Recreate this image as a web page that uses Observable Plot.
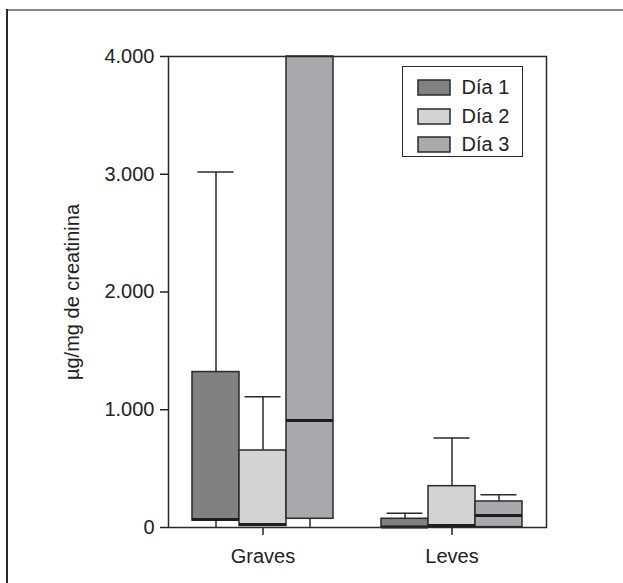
<!DOCTYPE html>
<html>
<head>
<meta charset="utf-8">
<script src="https://cdn.jsdelivr.net/npm/d3@7"></script>
<script src="https://cdn.jsdelivr.net/npm/@observablehq/plot@0.6"></script>
<style>
  html, body { margin: 0; padding: 0; background: #fff; }
  #wrap { position: relative; width: 623px; height: 583px; overflow: hidden; }
  #wrap svg.chart { position: absolute; left: 0; top: 0; }
  #edgeTop { position: absolute; left: 6px; top: 9px; width: 617px; height: 2px; background: #8a8a8a; }
  #edgeLeft { position: absolute; left: 6px; top: 9px; width: 2px; height: 574px; background: #2a2a2a; }
  #legend { position: absolute; left: 402px; top: 66px; width: 121px; height: 91px; box-sizing: border-box;
            border: 1.5px solid #2a2a2a; background: #fff; padding: 6.5px 0 0 14.5px; }
  .leg-swatches { font: 20px "Liberation Sans", Arial, sans-serif !important; color: #222 !important; margin: 0 !important; }
  .leg-swatch { padding-bottom: 0 !important; height: 28.5px; display: flex !important; align-items: center; }
  .leg-swatch > svg { margin-right: 12px !important; overflow: visible; }
  .leg-swatch > svg > * { stroke: #2a2a2a; stroke-width: 1.5px; }
</style>
</head>
<body>
<div id="wrap">
  <div id="edgeTop"></div>
  <div id="edgeLeft"></div>
</div>
<script>
// Categories
const groups = ["Graves", "Leves"];
const days = ["Día 1", "Día 2", "Día 3"];
// One entry per box, in order Graves (Día 1..3), Leves (Día 1..3)
const boxGroup = ["Graves", "Graves", "Graves", "Leves", "Leves", "Leves"];
const boxDay = ["Día 1", "Día 2", "Día 3", "Día 1", "Día 2", "Día 3"];
const whiskerLow = [0, 13, 0, 0, 0, 0];
const quartile1 = [59, 13, 74, 3, 3, 3];
const medianVal = [68, 25, 908, 5, 17, 102];
const quartile3 = [1320, 654, 4000, 74, 351, 221];
const whiskerHigh = [3020, 1110, 4000, 121, 760, 278];
// Axis ticks and labels
const yTicks = [0, 1000, 2000, 3000, 4000];
const yLabel = "µg/mg de creatinina";
const dayColors = ["#808183", "#d2d3d5", "#a8a9ac"];

const rows = boxGroup.map((g, i) => ({
  group: g, day: boxDay[i], low: whiskerLow[i], q1: quartile1[i],
  median: medianVal[i], q3: quartile3[i], high: whiskerHigh[i]
}));

const esFormat = d3.formatLocale({decimal: ",", thousands: ".", grouping: [3], currency: ["", ""]}).format(",");
const ink = "#2a2a2a";

const chart = Plot.plot({
  width: 623,
  height: 583,
  marginLeft: 168,
  marginRight: 77,
  marginTop: 56,
  marginBottom: 56,
  style: {fontFamily: "'Liberation Sans', Arial, sans-serif", fontSize: "20px", color: "#222", background: "transparent"},
  fx: {domain: groups, padding: 0, label: null},
  x: {domain: days, paddingInner: 0, paddingOuter: 0.5, axis: null},
  y: {domain: [0, 4000]},
  color: {domain: days, range: dayColors},
  marks: [
    Plot.ruleX(rows.filter(d => d.q1 > d.low), {fx: "group", x: "day", y1: "low", y2: "q1", stroke: ink, strokeWidth: 1.5}),
    Plot.ruleX(rows.filter(d => d.high > d.q3), {fx: "group", x: "day", y1: "q3", y2: "high", stroke: ink, strokeWidth: 1.5}),
    Plot.tickY(rows.filter(d => d.high > d.q3), {fx: "group", x: "day", y: "high", inset: 5.5, stroke: ink, strokeWidth: 1.5}),
    Plot.rectY(rows, {fx: "group", x: "day", y1: "q1", y2: "q3", fill: "day", stroke: ink, strokeWidth: 1.5}),
    Plot.tickY(rows, {fx: "group", x: "day", y: "median", stroke: "#1e1e1e", strokeWidth: 3}),
    Plot.frame({facet: "super", stroke: ink, strokeWidth: 1.5}),
    Plot.axisY({ticks: yTicks, tickFormat: esFormat, tickSize: 8, tickPadding: 6, strokeWidth: 1.5,
                label: yLabel, labelArrow: "none", labelAnchor: "center", labelOffset: 104}),
    Plot.axisFx({anchor: "bottom", tickSize: 8, tickPadding: 13, strokeWidth: 1.5, label: null})
  ]
});
chart.classList.add("chart");
document.getElementById("wrap").appendChild(chart);

const legendBox = document.createElement("div");
legendBox.id = "legend";
legendBox.appendChild(chart.legend("color", {legend: "swatches", columns: 1, swatchWidth: 32, swatchHeight: 15, className: "leg"}));
document.getElementById("wrap").appendChild(legendBox);
</script>
</body>
</html>
